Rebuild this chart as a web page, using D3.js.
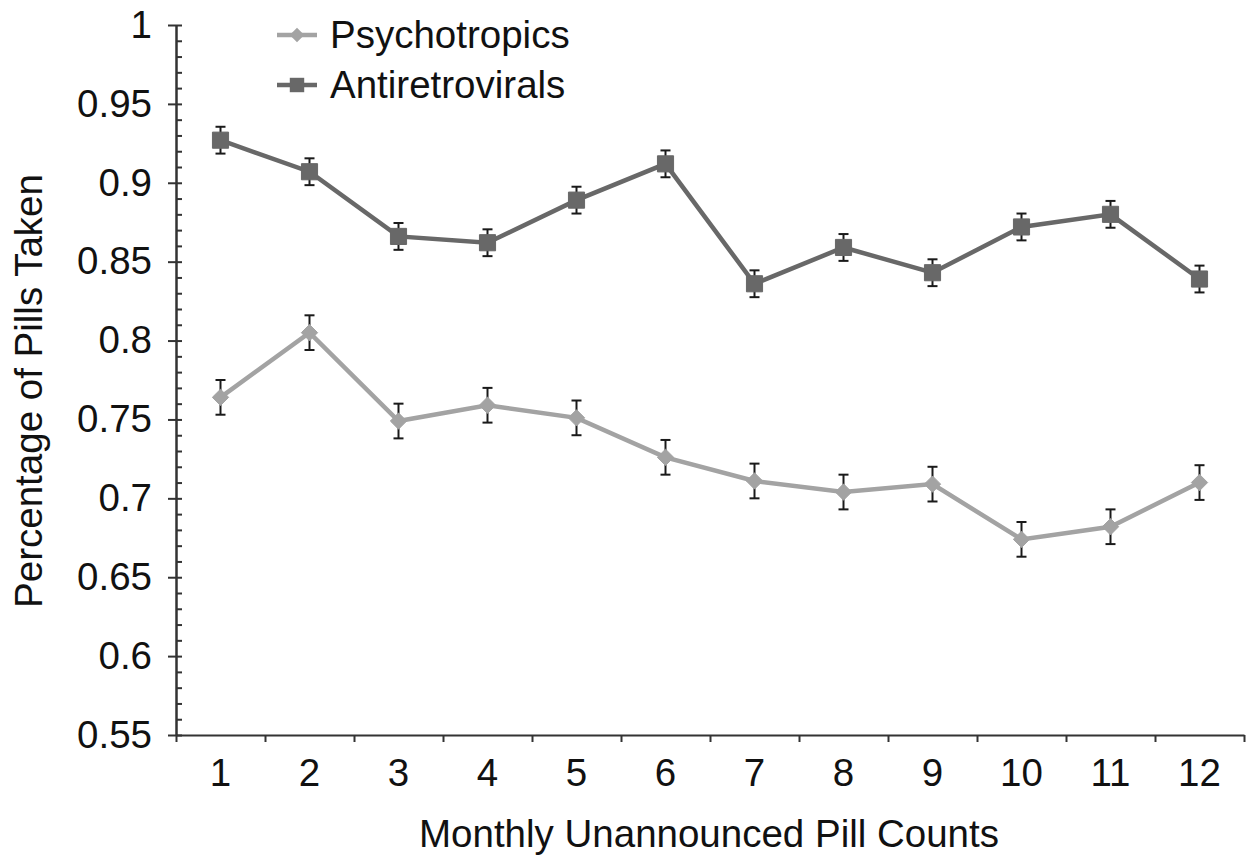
<!DOCTYPE html>
<html>
<head>
<meta charset="utf-8">
<script src="https://cdn.jsdelivr.net/npm/d3@7"></script>
<style>
  body { margin: 0; background: #fff; }
  text { font-family: "Liberation Sans", Arial, sans-serif; fill: #111; }
  .axis path, .axis line { stroke: #333; stroke-width: 2; }
</style>
</head>
<body>
<div id="chart"></div>
<script>
// data
let months = ['1', '2', '3', '4', '5', '6', '7', '8', '9', '10', '11', '12'];
let psychotropics = [0.764, 0.805, 0.749, 0.759, 0.751, 0.726, 0.711, 0.704, 0.709, 0.674, 0.682, 0.710];
let psychotropicsErr = [0.011, 0.011, 0.011, 0.011, 0.011, 0.011, 0.011, 0.011, 0.011, 0.011, 0.011, 0.011];
let antiretrovirals = [0.927, 0.907, 0.866, 0.862, 0.889, 0.912, 0.836, 0.859, 0.843, 0.872, 0.880, 0.839];
let antiretroviralsErr = [0.0085, 0.0085, 0.0085, 0.0085, 0.0085, 0.0085, 0.0085, 0.0085, 0.0085, 0.0085, 0.0085, 0.0085];
let yTicks = [0.55, 0.6, 0.65, 0.7, 0.75, 0.8, 0.85, 0.9, 0.95, 1];

let svgWidth = 1259;
let svgHeight = 857;
let fontSize = '38.5px';

// borders
let margin = { top: 25, right: 15, bottom: 122, left: 176 };
let width = svgWidth - margin.left - margin.right;
let height = svgHeight - margin.top - margin.bottom;

let svg = d3.select('#chart')
  .append('svg')
  .attr('width', svgWidth)
  .attr('height', svgHeight);

let chartGroup = svg.append('g')
  .attr('transform', `translate(${margin.left}, ${margin.top})`);

// scales
let xBand = d3.scaleBand().domain(months).range([0, width]);
let xEdge = d3.scaleLinear().domain([0, months.length]).range([0, width]);
let yLinear = d3.scaleLinear().domain([0.55, 1]).range([height, 0]);

// x axis: boundary ticks + centred labels
chartGroup.append('g')
  .classed('axis', true)
  .attr('transform', `translate(0, ${height})`)
  .call(d3.axisBottom(xEdge).tickValues(d3.range(0, months.length + 1)).tickSize(7).tickSizeOuter(0).tickFormat(''));

chartGroup.append('g')
  .classed('axis', true)
  .attr('transform', `translate(0, ${height})`)
  .call(d3.axisBottom(xBand).tickSize(0).tickPadding(24))
  .call(g => g.select('.domain').remove())
  .selectAll('text')
  .attr('font-size', fontSize);

// y axis: minor ticks to the right, major ticks crossing
chartGroup.append('g')
  .classed('axis', true)
  .call(d3.axisRight(yLinear).tickValues(d3.range(55, 101).map(d => d / 100)).tickSize(6).tickSizeOuter(0).tickFormat(''));

chartGroup.append('g')
  .classed('axis', true)
  .call(d3.axisLeft(yLinear).tickValues(yTicks).tickSize(8).tickSizeOuter(0).tickPadding(16).tickFormat(d => String(d)))
  .selectAll('text')
  .attr('font-size', fontSize);

// axis titles
chartGroup.append('text')
  .attr('x', width / 2 - 1)
  .attr('y', height + 112)
  .attr('text-anchor', 'middle')
  .attr('font-size', fontSize)
  .text('Monthly Unannounced Pill Counts');

svg.append('text')
  .attr('transform', 'rotate(-90)')
  .attr('x', -391)
  .attr('y', 42)
  .attr('text-anchor', 'middle')
  .attr('font-size', fontSize)
  .text('Percentage of Pills Taken');

let series = [
  { name: 'Psychotropics', values: psychotropics, err: psychotropicsErr, color: '#a3a3a3', shape: d3.symbolDiamond2, size: 170 },
  { name: 'Antiretrovirals', values: antiretrovirals, err: antiretroviralsErr, color: '#686868', shape: d3.symbolSquare, size: 260 },
];

let line = d3.line()
  .x((d, i) => xBand(months[i]) + xBand.bandwidth() / 2)
  .y(d => yLinear(d));

series.forEach(function(s) {
  let g = chartGroup.append('g');

  g.append('path')
    .datum(s.values)
    .attr('fill', 'none')
    .attr('stroke', s.color)
    .attr('stroke-width', 4.5)
    .attr('d', line);

  let pts = s.values.map((v, i) => ({ x: xBand(months[i]) + xBand.bandwidth() / 2, v: v, e: s.err[i] }));

  // error bars
  let bars = g.selectAll('.err')
    .data(pts)
    .enter()
    .append('g')
    .attr('stroke', '#1a1a1a')
    .attr('stroke-width', 2);
  bars.append('line')
    .attr('x1', d => d.x).attr('x2', d => d.x)
    .attr('y1', d => yLinear(d.v + d.e)).attr('y2', d => yLinear(d.v - d.e));
  bars.append('line')
    .attr('x1', d => d.x - 5).attr('x2', d => d.x + 5)
    .attr('y1', d => yLinear(d.v + d.e)).attr('y2', d => yLinear(d.v + d.e));
  bars.append('line')
    .attr('x1', d => d.x - 5).attr('x2', d => d.x + 5)
    .attr('y1', d => yLinear(d.v - d.e)).attr('y2', d => yLinear(d.v - d.e));

  // markers
  g.selectAll('.marker')
    .data(pts)
    .enter()
    .append('path')
    .attr('d', d3.symbol().type(s.shape).size(s.size))
    .attr('transform', d => `translate(${d.x}, ${yLinear(d.v)})`)
    .attr('fill', s.color)
    .attr('stroke', s.color)
    .attr('stroke-width', 1);
});

// legend
let legend = svg.append('g');
series.forEach(function(s, i) {
  let cy = 35 + i * 50;
  legend.append('line')
    .attr('x1', 277).attr('x2', 317)
    .attr('y1', cy).attr('y2', cy)
    .attr('stroke', s.color)
    .attr('stroke-width', 4.5);
  legend.append('path')
    .attr('d', d3.symbol().type(s.shape).size(s.size * 0.8))
    .attr('transform', `translate(297, ${cy})`)
    .attr('fill', s.color);
  legend.append('text')
    .attr('x', 330)
    .attr('y', cy + 13)
    .attr('font-size', fontSize)
    .text(s.name);
});
</script>
</body>
</html>
